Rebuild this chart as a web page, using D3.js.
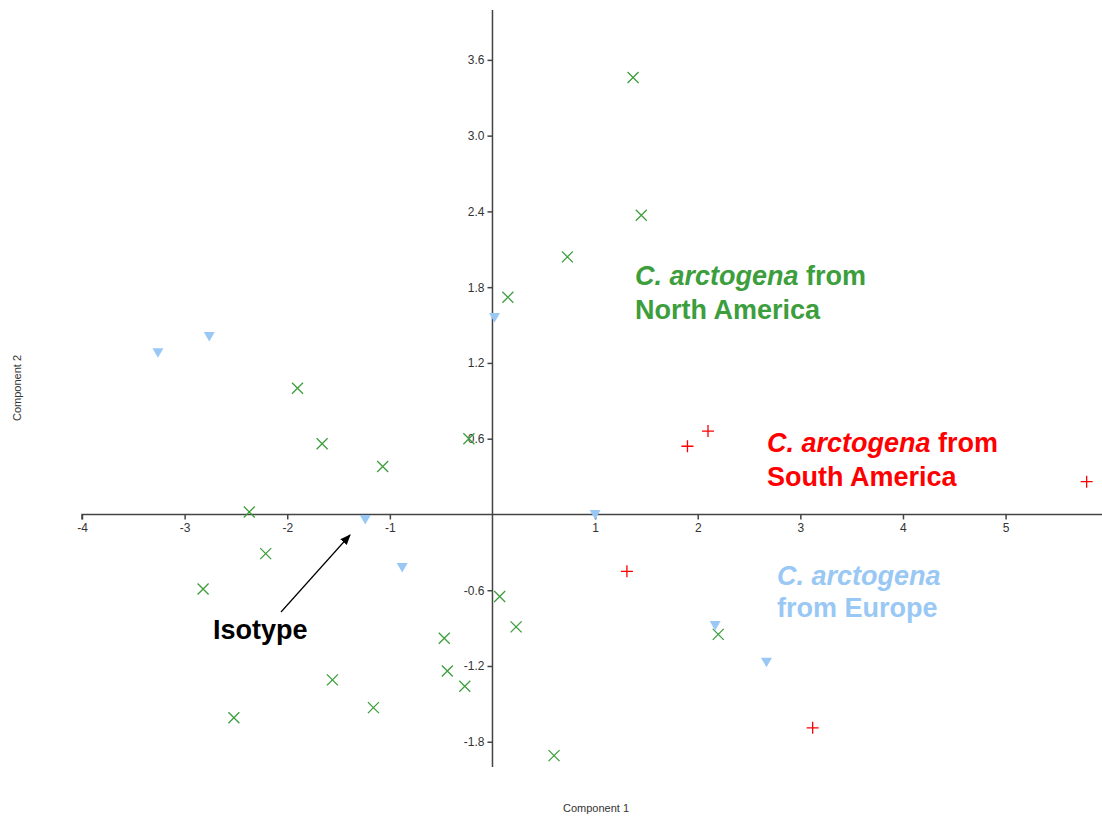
<!DOCTYPE html>
<html>
<head>
<meta charset="utf-8">
<script src="https://cdn.jsdelivr.net/npm/d3@7"></script>
<style>
  body { margin: 0; background: #fff; }
  svg { font-family: Arial, "Liberation Sans", sans-serif; }
  .axis text { font-size: 12px; fill: #333; }
  .axis path, .axis line { stroke: #444; }
  .note { font-size: 27px; font-weight: bold; }
</style>
</head>
<body>
<div id="d3-container"></div>
<script>
/* CONSTANTS AND GLOBALS */
const width = 1102,
  height = 819;

// data: [component 1, component 2]
const northAmerica = [
  [1.37, 3.46], [1.45, 2.37], [0.73, 2.04], [0.15, 1.72], [-1.9, 1.0],
  [-1.66, 0.56], [-1.07, 0.38], [-0.23, 0.6], [-2.37, 0.02], [-2.21, -0.31],
  [-2.82, -0.59], [-0.47, -0.98], [-0.44, -1.24], [-0.27, -1.36], [-1.56, -1.31],
  [-1.16, -1.53], [-2.52, -1.61], [0.07, -0.65], [0.23, -0.89], [0.6, -1.91],
  [2.2, -0.95]
];
const southAmerica = [
  [1.9, 0.54], [2.1, 0.66], [1.31, -0.45], [3.12, -1.69], [5.79, 0.26]
];
const europe = [
  [-3.26, 1.28], [-2.76, 1.41], [-1.24, -0.04], [-0.88, -0.42], [0.02, 1.56],
  [1.0, 0.0], [2.17, -0.88], [2.67, -1.17]
];
const xTicks = [-4, -3, -2, -1, 1, 2, 3, 4, 5];
const yTicks = [-1.8, -1.2, -0.6, 0.6, 1.2, 1.8, 2.4, 3.0, 3.6];

const green = "#3c9e3c",
  red = "#ff0000",
  blue = "#99c8f5";

const svg = d3.select("#d3-container")
  .append("svg")
  .attr("width", width)
  .attr("height", height);

// + SCALES
const xScale = d3.scaleLinear().domain([-4, 5.92]).range([82, 1100]);
const yScale = d3.scaleLinear().domain([-2.0, 3.995]).range([767, 10]);

// plain hyphen for negatives, like the original
const hyphen = f => d => f(d).replace("\u2212", "-");

// + AXES (crossing at the origin)
svg.append("g")
  .attr("class", "axis x-axis")
  .attr("transform", `translate(0,${yScale(0)})`)
  .call(d3.axisBottom(xScale).tickValues(xTicks).tickSize(5).tickPadding(4).tickFormat(hyphen(d3.format("d"))))
  .call(g => g.select(".domain").attr("d", `M${xScale(-4)},5V0H${width}`));

svg.append("g")
  .attr("class", "axis y-axis")
  .attr("transform", `translate(${xScale(0)},0)`)
  .call(d3.axisLeft(yScale).tickValues(yTicks).tickSize(5).tickPadding(3).tickFormat(hyphen(d3.format(".1f"))))
  .call(g => g.select(".domain").attr("d", `M0,${yScale(3.995)}V${yScale(-2.0)}`));

svg.selectAll(".axis .domain").attr("stroke-width", 1.5);
svg.selectAll(".axis .tick line").attr("stroke-width", 1.5);

// axis titles
svg.append("text")
  .attr("x", 596).attr("y", 812)
  .attr("text-anchor", "middle")
  .attr("font-size", 11).attr("fill", "#333")
  .text("Component 1");

svg.append("text")
  .attr("transform", `translate(21,388) rotate(-90)`)
  .attr("text-anchor", "middle")
  .attr("font-size", 11).attr("fill", "#333")
  .text("Component 2");

// + POINTS
const s = 5.5;
svg.append("g").selectAll("path")
  .data(northAmerica)
  .join("path")
  .attr("transform", d => `translate(${xScale(d[0])},${yScale(d[1])})`)
  .attr("d", `M${-s},${-s}L${s},${s}M${-s},${s}L${s},${-s}`)
  .attr("stroke", green).attr("stroke-width", 1.3).attr("fill", "none");

svg.append("g").selectAll("path")
  .data(southAmerica)
  .join("path")
  .attr("transform", d => `translate(${xScale(d[0])},${yScale(d[1])})`)
  .attr("d", "M-6,0H6M0,-6V6")
  .attr("stroke", red).attr("stroke-width", 1.3).attr("fill", "none");

svg.append("g").selectAll("path")
  .data(europe)
  .join("path")
  .attr("transform", d => `translate(${xScale(d[0])},${yScale(d[1])})`)
  .attr("d", "M-5.5,-4.5H5.5L0,5Z")
  .attr("fill", blue);

// + ANNOTATIONS
function note(x, y, color, lines, gap) {
  const t = svg.append("text").attr("class", "note").attr("fill", color);
  lines.forEach((parts, i) => {
    parts.forEach((p, j) => {
      const ts = t.append("tspan").text(p.t);
      if (j === 0) ts.attr("x", x).attr("y", y + i * gap);
      if (p.i) ts.attr("font-style", "italic");
    });
  });
}

note(635, 285, green, [[{ t: "C. arctogena", i: true }, { t: " from" }], [{ t: "North America" }]], 34);
note(767, 452, red, [[{ t: "C. arctogena", i: true }, { t: " from" }], [{ t: "South America" }]], 34);
note(777, 585, blue, [[{ t: "C. arctogena", i: true }], [{ t: "from Europe" }]], 32);

svg.append("text")
  .attr("class", "note")
  .attr("x", 213).attr("y", 639)
  .attr("fill", "#000")
  .text("Isotype");

svg.append("defs").append("marker")
  .attr("id", "arrow")
  .attr("viewBox", "0 0 10 10")
  .attr("refX", 9).attr("refY", 5)
  .attr("markerWidth", 9).attr("markerHeight", 9)
  .attr("orient", "auto")
  .append("path").attr("d", "M0,1L10,5L0,9Z").attr("fill", "#000");

svg.append("line")
  .attr("x1", 281).attr("y1", 612)
  .attr("x2", 350).attr("y2", 535)
  .attr("stroke", "#000").attr("stroke-width", 1.2)
  .attr("marker-end", "url(#arrow)");
</script>
</body>
</html>
